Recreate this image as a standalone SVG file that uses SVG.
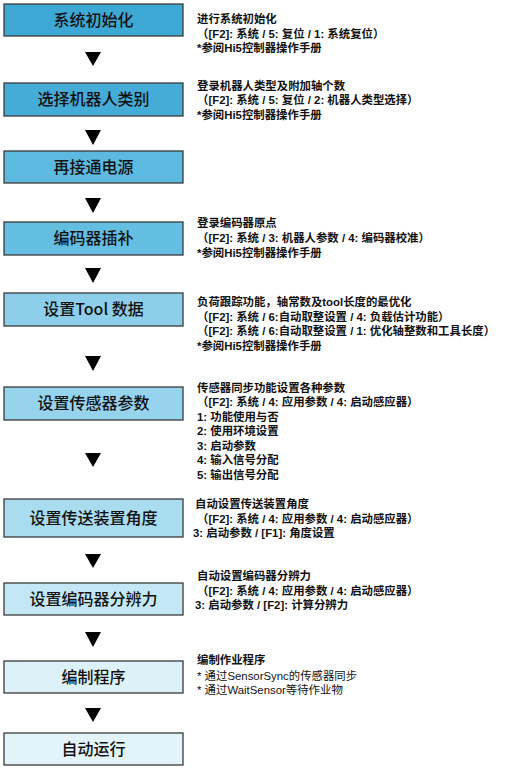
<svg xmlns="http://www.w3.org/2000/svg" width="509" height="768" viewBox="0 0 509 768">
<style>
.box{stroke:#3a3a3a;stroke-width:1.3}
.lbl{font-family:"Noto Sans CJK SC","Liberation Sans",sans-serif;font-size:16px;font-weight:500;fill:#111;text-anchor:middle}
.t{font-family:"Liberation Sans","Noto Sans CJK SC",sans-serif;font-size:11.4px;font-weight:bold;fill:#111}
.r{font-weight:normal}
.arr{fill:#000}
</style>
<rect width="509" height="768" fill="#fff"/>
<g id="connectors">
<polygon class="arr" points="85,52 101,52 93,66"/>
<polygon class="arr" points="85,130 101,130 93,145"/>
<polygon class="arr" points="85,198 101,198 93,213"/>
<polygon class="arr" points="85,268 101,268 93,283"/>
<polygon class="arr" points="85,356 101,356 93,371"/>
<polygon class="arr" points="85,453 101,453 93,467"/>
<polygon class="arr" points="85,554 101,554 93,568"/>
<polygon class="arr" points="85,632 101,632 93,647"/>
<polygon class="arr" points="85,708 101,708 93,722"/>
</g>
<g id="n1">
<rect class="box" x="4" y="4" width="179" height="32" fill="#3ea8d5"/>
<text class="lbl" x="93.5" y="26">系统初始化</text>
<text class="t" x="197" y="23">进行系统初始化</text>
<text class="t" x="197" y="38">（[F2]: 系统 / 5: 复位 / 1: 系统复位）</text>
<text class="t" x="197" y="52">*参阅Hi5控制器操作手册</text>
</g>
<g id="n2">
<rect class="box" x="4" y="83" width="179" height="33" fill="#45acd8"/>
<text class="lbl" x="93.5" y="105">选择机器人类别</text>
<text class="t" x="197" y="90">登录机器人类型及附加轴个数</text>
<text class="t" x="197" y="104">（[F2]: 系统 / 5: 复位 / 2: 机器人类型选择）</text>
<text class="t" x="197" y="119">*参阅Hi5控制器操作手册</text>
</g>
<g id="n3">
<rect class="box" x="4" y="151" width="179" height="32" fill="#5cbae0"/>
<text class="lbl" x="93.5" y="173">再接通电源</text>
</g>
<g id="n4">
<rect class="box" x="4" y="222" width="179" height="33" fill="#64bee2"/>
<text class="lbl" x="93.5" y="244">编码器插补</text>
<text class="t" x="197" y="227">登录编码器原点</text>
<text class="t" x="197" y="242">（[F2]: 系统 / 3: 机器人参数 / 4: 编码器校准）</text>
<text class="t" x="197" y="257">*参阅Hi5控制器操作手册</text>
</g>
<g id="n5">
<rect class="box" x="4" y="293" width="179" height="33" fill="#8dcfea"/>
<text class="lbl" x="93.5" y="315">设置Tool 数据</text>
<text class="t" x="197" y="306">负荷跟踪功能，轴常数及tool长度的最优化</text>
<text class="t" x="197" y="321">（[F2]: 系统 / 6:自动取整设置 / 4: 负载估计功能）</text>
<text class="t" x="197" y="335">（[F2]: 系统 / 6:自动取整设置 / 1: 优化轴整数和工具长度）</text>
<text class="t" x="197" y="350">*参阅Hi5控制器操作手册</text>
</g>
<g id="n6">
<rect class="box" x="4" y="387" width="179" height="33" fill="#96d3ec"/>
<text class="lbl" x="93.5" y="409">设置传感器参数</text>
<text class="t" x="197" y="392">传感器同步功能设置各种参数</text>
<text class="t" x="197" y="406">（[F2]: 系统 / 4: 应用参数 / 4: 启动感应器）</text>
<text class="t" x="197" y="421">1: 功能使用与否</text>
<text class="t" x="197" y="435">2: 使用环境设置</text>
<text class="t" x="197" y="450">3: 启动参数</text>
<text class="t" x="197" y="464">4: 输入信号分配</text>
<text class="t" x="197" y="479">5: 输出信号分配</text>
</g>
<g id="n7">
<rect class="box" x="4" y="499" width="179" height="38" fill="#aadcf0"/>
<text class="lbl" x="93.5" y="524">设置传送装置角度</text>
<text class="t" x="195" y="508">自动设置传送装置角度</text>
<text class="t" x="197" y="523">（[F2]: 系统 / 4: 应用参数 / 4: 启动感应器）</text>
<text class="t" x="193" y="537">3: 启动参数 / [F1]: 角度设置</text>
</g>
<g id="n8">
<rect class="box" x="4" y="583" width="179" height="32" fill="#c3e7f4"/>
<text class="lbl" x="93.5" y="605">设置编码器分辨力</text>
<text class="t" x="197" y="580">自动设置编码器分辨力</text>
<text class="t" x="197" y="595">（[F2]: 系统 / 4: 应用参数 / 4: 启动感应器）</text>
<text class="t" x="195" y="609">3: 启动参数 / [F2]: 计算分辨力</text>
</g>
<g id="n9">
<rect class="box" x="4" y="661" width="179" height="32" fill="#ddf1f8"/>
<text class="lbl" x="93.5" y="683">编制程序</text>
<text class="t" x="197" y="664">编制作业程序</text>
<text class="t r" x="197" y="680">* 通过SensorSync的传感器同步</text>
<text class="t r" x="197" y="694">* 通过WaitSensor等待作业物</text>
</g>
<g id="n10">
<rect class="box" x="4" y="733" width="179" height="32" fill="#e2f3f9"/>
<text class="lbl" x="93.5" y="755">自动运行</text>
</g>
</svg>
